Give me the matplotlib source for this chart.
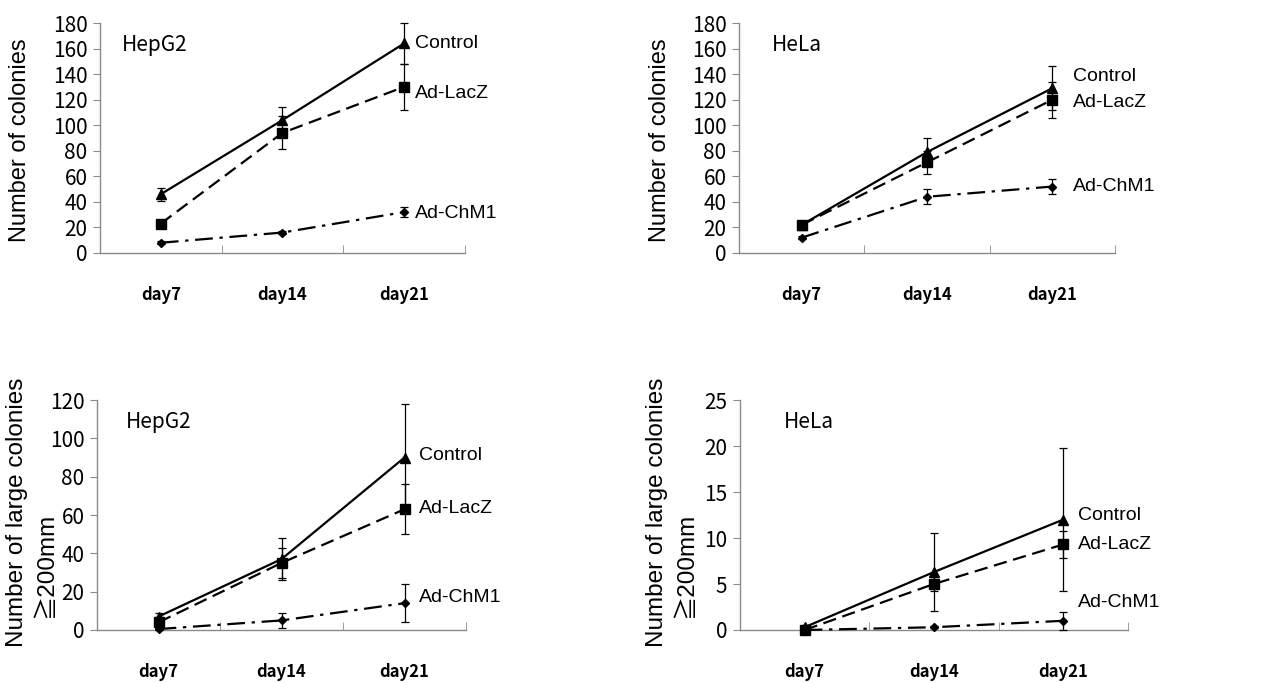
import matplotlib
matplotlib.use("Agg")
import matplotlib.pyplot as plt
import matplotlib.transforms as mtransforms

days = ["day7", "day14", "day21"]
series = ["Control", "Ad-LacZ", "Ad-ChM1"]

# Panel 1: HepG2, number of colonies
hep_ctrl = [46, 104, 164]
hep_ctrl_err = [5, 10, 16]
hep_lacz = [23, 94, 130]
hep_lacz_err = [2, 13, 18]
hep_chm1 = [8, 16, 32]
hep_chm1_err = [1, 1, 4]

# Panel 2: HeLa, number of colonies
hela_ctrl = [22, 79, 129]
hela_ctrl_err = [1, 11, 17]
hela_lacz = [22, 71, 120]
hela_lacz_err = [1, 9, 14]
hela_chm1 = [12, 44, 52]
hela_chm1_err = [1, 6, 6]

# Panel 3: HepG2, large colonies
hepL_ctrl = [7, 37, 90]
hepL_ctrl_err = [2, 11, 28]
hepL_lacz = [4, 35, 63]
hepL_lacz_err = [3, 8, 13]
hepL_chm1 = [0.5, 5, 14]
hepL_chm1_err = [0.5, 4, 10]

# Panel 4: HeLa, large colonies
helaL_ctrl = [0.3, 6.3, 12]
helaL_ctrl_err = [0.2, 4.2, 7.8]
helaL_lacz = [0, 5, 9.3]
helaL_lacz_err = [0, 0.8, 1.5]
helaL_chm1 = [0, 0.3, 1]
helaL_chm1_err = [0, 0.1, 1]

W, H = 1267, 683

panels = [
    dict(title="HepG2", ylabels=[("Number of colonies", 20, 140, 17)], ymax=180, ystep=20,
         data=[(hep_ctrl, hep_ctrl_err), (hep_lacz, hep_lacz_err), (hep_chm1, hep_chm1_err)],
         labely=[164, 125, 31], labx=0.863, titlex=0.06,
         rect=[0.0789, 0.6296, 0.288, 0.3367]),
    dict(title="HeLa", ylabels=[("Number of colonies", 660, 140, 17)], ymax=180, ystep=20,
         data=[(hela_ctrl, hela_ctrl_err), (hela_lacz, hela_lacz_err), (hela_chm1, hela_chm1_err)],
         labely=[138.5, 118, 52], labx=0.888, titlex=0.088,
         rect=[0.5833, 0.6296, 0.2968, 0.3367]),
    dict(title="HepG2", ylabels=[("Number of large colonies", 17.5, 512, 17.5), ("≧200mm", 46, 565, 17.5)],
         ymax=120, ystep=20,
         data=[(hepL_ctrl, hepL_ctrl_err), (hepL_lacz, hepL_lacz_err), (hepL_chm1, hepL_chm1_err)],
         labely=[91, 63.6, 16.7], labx=0.873, titlex=0.079,
         rect=[0.0766, 0.0776, 0.2912, 0.3367]),
    dict(title="HeLa", ylabels=[("Number of large colonies", 657, 512, 17.5), ("≧200mm", 686, 565, 17.5)],
         ymax=25, ystep=5,
         data=[(helaL_ctrl, helaL_ctrl_err), (helaL_lacz, helaL_lacz_err), (helaL_chm1, helaL_chm1_err)],
         labely=[12.5, 9.3, 3.0], labx=0.871, titlex=0.113,
         rect=[0.584, 0.0776, 0.3062, 0.3367]),
]

styles = [
    dict(marker="^", linestyle="-", ms=7),
    dict(marker="s", linestyle=(0, (6, 3)), ms=6.5),
    dict(marker="D", linestyle=(0, (8, 3, 1.5, 3)), ms=4.5),
]

gothic = ["Noto Sans CJK JP", "DejaVu Sans"]
arial = ["Liberation Sans", "Noto Sans CJK JP", "DejaVu Sans"]

fig = plt.figure(figsize=(W / 100, H / 100), dpi=100)
x = list(range(len(days)))
spine_col = "#8a8a8a"

for p in panels:
    ax = fig.add_axes(p["rect"])
    for (vals, errs), st in zip(p["data"], styles):
        ax.errorbar(x, vals, yerr=errs, color="black", lw=1.6, elinewidth=0.9,
                    capsize=3, capthick=0.9, marker=st["marker"], ms=st["ms"],
                    linestyle=st["linestyle"], clip_on=False, zorder=3)
    ax.set_xlim(-0.5, 2.5)
    ax.set_ylim(0, p["ymax"])
    ax.set_yticks(list(range(0, p["ymax"] + 1, p["ystep"])))
    ax.set_xticks(x)
    ax.set_xticklabels(days, fontfamily=gothic, fontsize=12, fontweight="bold")
    ax.set_xticks([0.5, 1.5, 2.5], minor=True)
    ax.tick_params(axis="x", which="major", length=0, pad=24)
    ax.tick_params(axis="x", which="minor", direction="in", length=6, color=spine_col)
    ax.tick_params(axis="y", direction="out", length=5, color=spine_col, labelsize=15, pad=4)
    for lab in ax.get_yticklabels():
        lab.set_fontfamily(gothic)
    for s in ["top", "right"]:
        ax.spines[s].set_visible(False)
    for s in ["left", "bottom"]:
        ax.spines[s].set_color(spine_col)
        ax.spines[s].set_linewidth(1.0)
    for txt, px, py, fs in p["ylabels"]:
        fig.text(px / W, 1 - py / H, txt, rotation=90, ha="center", va="center",
                 fontfamily=arial, fontsize=fs)
    ax.text(p["titlex"], 0.904, p["title"], transform=ax.transAxes, fontfamily=gothic,
            fontsize=15, va="center", ha="left")
    trans = mtransforms.blended_transform_factory(ax.transAxes, ax.transData)
    for name, ly in zip(series, p["labely"]):
        ax.text(p["labx"], ly, name, transform=trans, fontfamily=arial, fontsize=14,
                va="center", ha="left", clip_on=False)

fig.savefig("out.png", dpi=100)
